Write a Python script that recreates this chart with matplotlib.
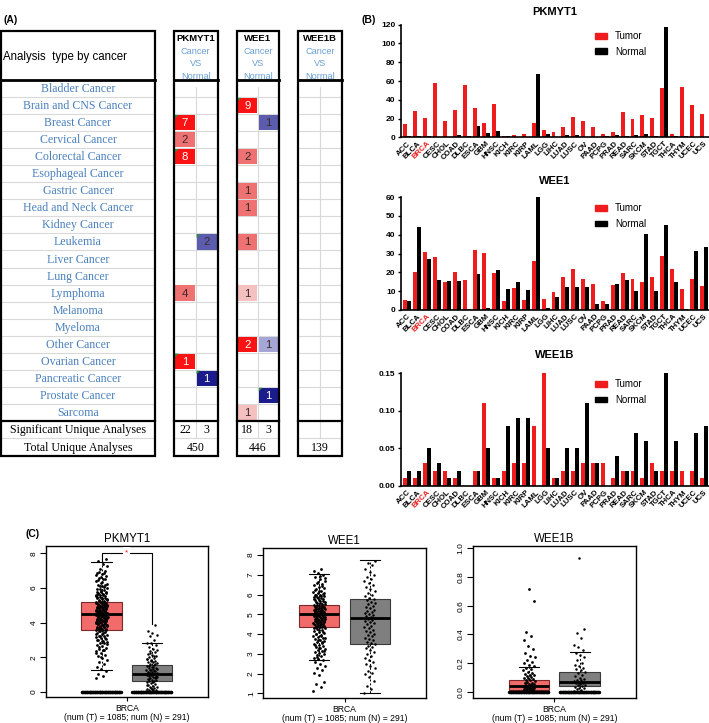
import matplotlib
matplotlib.use('Agg')
import matplotlib.pyplot as plt
from matplotlib.patches import Rectangle, Polygon, Patch
import numpy as np

plt.rcParams['font.family'] = 'sans-serif'
plt.rcParams['font.sans-serif'] = ['Liberation Sans', 'DejaVu Sans']
plt.rcParams['font.serif'] = ['Liberation Serif', 'DejaVu Serif']
plt.rcParams['axes.unicode_minus'] = False

W, H = 709, 723

# ---------------- Panel A: Oncomine summary ----------------
cancers = ['Bladder Cancer', 'Brain and CNS Cancer', 'Breast Cancer', 'Cervical Cancer',
           'Colorectal Cancer', 'Esophageal Cancer', 'Gastric Cancer', 'Head and Neck Cancer',
           'Kidney Cancer', 'Leukemia', 'Liver Cancer', 'Lung Cancer', 'Lymphoma', 'Melanoma',
           'Myeloma', 'Other Cancer', 'Ovarian Cancer', 'Pancreatic Cancer', 'Prostate Cancer',
           'Sarcoma']
genes = ['PKMYT1', 'WEE1', 'WEE1B']

# counts of significant analyses (0 = none), up = over-expressed, down = under-expressed
pk_up = [0, 0, 7, 2, 8, 0, 0, 0, 0, 0, 0, 0, 4, 0, 0, 0, 1, 0, 0, 0]
pk_down = [0, 0, 0, 0, 0, 0, 0, 0, 0, 2, 0, 0, 0, 0, 0, 0, 0, 1, 0, 0]
wee1_up = [0, 9, 0, 0, 2, 0, 1, 1, 0, 1, 0, 0, 1, 0, 0, 2, 0, 0, 0, 1]
wee1_down = [0, 0, 1, 0, 0, 0, 0, 0, 0, 0, 0, 0, 0, 0, 0, 1, 0, 0, 1, 0]
wee1b_up = [0] * 20
wee1b_down = [0] * 20
# colour intensity (gene rank percentile) 1 = light, 2 = medium, 3 = strong
pk_up_shade = [0, 0, 3, 2, 3, 0, 0, 0, 0, 0, 0, 0, 2, 0, 0, 0, 3, 0, 0, 0]
pk_down_shade = [0, 0, 0, 0, 0, 0, 0, 0, 0, 2, 0, 0, 0, 0, 0, 0, 0, 3, 0, 0]
wee1_up_shade = [0, 3, 0, 0, 2, 0, 2, 2, 0, 2, 0, 0, 1, 0, 0, 3, 0, 0, 0, 1]
wee1_down_shade = [0, 0, 2, 0, 0, 0, 0, 0, 0, 0, 0, 0, 0, 0, 0, 1, 0, 0, 3, 0]
# rows flagged as top 1% (green corner)
pk_up_top = [2, 4, 16]
pk_down_top = [9, 17]
wee1_up_top = [1]
wee1_down_top = [18]
sig_up = [22, 18, None]
sig_down = [3, 3, None]
total_analyses = [450, 446, 139]

# ---------------- Panel B: TCGA bars ----------------
tcga = ['ACC', 'BLCA', 'BRCA', 'CESC', 'CHOL', 'COAD', 'DLBC', 'ESCA', 'GBM', 'HNSC', 'KICH',
        'KIRC', 'KIRP', 'LAML', 'LGG', 'LIHC', 'LUAD', 'LUSC', 'OV', 'PAAD', 'PCPG', 'PRAD',
        'READ', 'SARC', 'SKCM', 'STAD', 'TGCT', 'THCA', 'THYM', 'UCEC', 'UCS']
pkmyt1_tumor = [14, 28, 21, 58, 17, 29, 56, 31, 15, 35, 1.5, 2.5, 3.5, 15, 8, 5.5, 11, 22,
                17, 11, 3.5, 5.5, 27, 20, 24, 21, 53, 3, 54, 34, 25]
pkmyt1_normal = [1.5, 1, 1, 0.5, 0.3, 2, 1, 12, 4.5, 7, 1, 0.3, 0.3, 67, 4, 0.5, 2, 2,
                 0.3, 0.5, 1, 2.5, 1.5, 2.5, 4, 1, 118, 1, 1.5, 0.3, 0.3]
wee1_tumor = [5.3, 20.4, 31, 28, 14.9, 20.4, 16.1, 32, 30.3, 19.8, 4.8, 11.9, 5.3, 26.2,
              5.8, 9.8, 17.5, 21.9, 16.5, 13.8, 4.6, 13.1, 19.8, 16.6, 14.7, 17.5, 28.7,
              21.6, 11.3, 16.3, 12.9]
wee1_normal = [4.8, 43.9, 26.9, 16.1, 15.4, 15.4, 0.7, 19.1, 0.9, 21.4, 11.3, 14.7, 10.4,
               60, 0.9, 7.0, 12.2, 12, 12.2, 3, 3, 13.6, 16.1, 10.3, 40.5, 10.3, 45, 15,
               0.7, 31.3, 33.6]
wee1b_tumor = [0.01, 0.01, 0.03, 0.02, 0.02, 0.01, 0, 0.02, 0.11, 0.01, 0.02, 0.03, 0.03,
               0.08, 0.15, 0.01, 0.02, 0.02, 0.03, 0.03, 0.03, 0.01, 0.02, 0.02, 0.01,
               0.03, 0.02, 0.02, 0.02, 0.02, 0.01]
wee1b_normal = [0.02, 0.02, 0.05, 0.03, 0.01, 0.02, 0, 0.02, 0.05, 0.01, 0.08, 0.09, 0.09,
                0, 0.05, 0.01, 0.05, 0.05, 0.11, 0.03, 0, 0.04, 0.02, 0.07, 0.06, 0.02,
                0.15, 0.06, 0, 0.07, 0.08]

# ---------------- Panel C: GEPIA BRCA boxplots ----------------
# box statistics: whisker low, q1, median, q3, whisker high
pk_box = {'T': (1.25, 3.6, 4.5, 5.2, 7.5), 'N': (0.05, 0.6, 1.05, 1.55, 2.85)}
wee1_box = {'T': (2.7, 4.35, 5.0, 5.45, 7.05), 'N': (1.0, 3.5, 4.8, 5.75, 7.75)}
wee1b_box = {'T': (0.0, 0.012, 0.042, 0.086, 0.175), 'N': (0.0, 0.04, 0.07, 0.137, 0.275)}
# individual samples read off the jittered clouds (approximate)
pk_t_pts = [0.8, 0.9, 1.05, 1.2, 1.3, 1.45, 1.6, 1.7, 1.85, 1.95, 2.05, 2.15, 2.25, 2.35,
            2.4, 2.5, 2.55, 2.65, 2.7, 2.8, 2.85, 2.9, 2.95, 3.0, 3.05, 3.1, 3.15, 3.2, 3.25,
            3.3, 3.35, 3.4, 3.45, 3.5, 3.55, 3.6, 3.62, 3.66, 3.7, 3.73, 3.77, 3.8, 3.84,
            3.88, 3.9, 3.94, 3.97, 4.0, 4.03, 4.06, 4.1, 4.13, 4.16, 4.2, 4.23, 4.26, 4.3,
            4.33, 4.36, 4.4, 4.43, 4.46, 4.5, 4.53, 4.56, 4.6, 4.63, 4.66, 4.7, 4.73, 4.76,
            4.8, 4.83, 4.86, 4.9, 4.94, 4.97, 5.0, 5.04, 5.08, 5.12, 5.16, 5.2, 5.25, 5.3,
            5.35, 5.4, 5.45, 5.5, 5.55, 5.6, 5.65, 5.7, 5.75, 5.8, 5.9, 5.95, 6.0, 6.1, 6.15,
            6.2, 6.3, 6.4, 6.5, 6.6, 6.7, 6.8, 6.9, 7.0, 7.1, 7.25, 7.4, 7.55, 7.7,
            2.02, 2.22, 2.42, 2.62, 2.78, 2.92, 3.02, 3.12, 3.22, 3.32, 3.42, 3.52, 3.58,
            3.64, 3.68, 3.72, 3.76, 3.82, 3.86, 3.92, 3.96, 4.02, 4.05, 4.08, 4.12, 4.15,
            4.18, 4.22, 4.25, 4.28, 4.32, 4.35, 4.38, 4.42, 4.45, 4.48, 4.52, 4.55, 4.58,
            4.62, 4.65, 4.68, 4.72, 4.75, 4.78, 4.82, 4.85, 4.88, 4.92, 4.95, 4.98, 5.02,
            5.06, 5.1, 5.14, 5.18, 5.22, 5.28, 5.32, 5.38, 5.42, 5.48, 5.52, 5.58, 5.62,
            5.68, 5.72, 5.78, 5.85, 5.92, 6.05, 6.12, 6.25, 6.35, 6.45, 6.55, 6.65, 6.75,
            6.85, 6.95]
pk_n_pts = [0.05, 0.08, 0.1, 0.12, 0.15, 0.18, 0.2, 0.25, 0.3, 0.35, 0.4, 0.45, 0.5, 0.55,
            0.6, 0.63, 0.67, 0.7, 0.74, 0.78, 0.8, 0.84, 0.88, 0.9, 0.94, 0.98, 1.0, 1.03,
            1.06, 1.1, 1.13, 1.16, 1.2, 1.24, 1.28, 1.32, 1.36, 1.4, 1.45, 1.5, 1.55, 1.6,
            1.65, 1.7, 1.75, 1.8, 1.85, 1.9, 1.95, 2.0, 2.1, 2.15, 2.2, 2.3, 2.35, 2.4, 2.5,
            2.6, 2.7, 2.8, 2.85, 3.0, 3.2, 3.3, 3.4, 3.5, 3.85,
            0.22, 0.42, 0.58, 0.72, 0.86, 0.96, 1.08, 1.18, 1.26, 1.34, 1.42, 1.52, 1.62,
            1.78, 1.92, 2.05, 2.25]
wee1_t_pts = [1.1, 1.3, 1.45, 1.55, 1.9, 2.05, 2.2, 2.3, 2.4, 2.5, 2.6, 2.7, 2.75, 2.8, 2.9,
              2.95, 3.0, 3.05, 3.1, 3.15, 3.2, 3.25, 3.3, 3.35, 3.4, 3.45, 3.5, 3.55, 3.6,
              3.65, 3.7, 3.75, 3.8, 3.85, 3.9, 3.95, 4.0, 4.05, 4.1, 4.15, 4.2, 4.25, 4.3,
              4.35, 4.38, 4.42, 4.45, 4.5, 4.53, 4.56, 4.6, 4.63, 4.66, 4.7, 4.73, 4.76, 4.8,
              4.83, 4.86, 4.9, 4.93, 4.96, 5.0, 5.03, 5.06, 5.1, 5.13, 5.16, 5.2, 5.23, 5.26,
              5.3, 5.33, 5.36, 5.4, 5.45, 5.5, 5.55, 5.6, 5.65, 5.7, 5.75, 5.8, 5.85, 5.9,
              5.95, 6.0, 6.05, 6.1, 6.15, 6.2, 6.3, 6.35, 6.4, 6.5, 6.55, 6.6, 6.7, 6.8, 6.9,
              7.0, 7.1, 7.2, 7.3,
              2.85, 3.12, 3.28, 3.42, 3.58, 3.68, 3.78, 3.88, 3.98, 4.08, 4.18, 4.28, 4.33,
              4.37, 4.4, 4.44, 4.48, 4.52, 4.55, 4.58, 4.62, 4.65, 4.68, 4.72, 4.75, 4.78,
              4.82, 4.85, 4.88, 4.92, 4.95, 4.98, 5.02, 5.05, 5.08, 5.12, 5.15, 5.18, 5.22,
              5.25, 5.28, 5.32, 5.35, 5.38, 5.42, 5.48, 5.52, 5.58, 5.62, 5.68, 5.72, 5.78,
              5.82, 5.88, 5.92, 5.98, 6.08, 6.18, 6.25, 6.45, 6.65, 6.85, 6.95]
wee1_n_pts = [1.0, 1.2, 1.35, 1.6, 1.8, 1.95, 2.05, 2.15, 2.3, 2.4, 2.5, 2.6, 2.7, 2.8, 2.9,
              3.0, 3.1, 3.2, 3.3, 3.35, 3.4, 3.5, 3.55, 3.6, 3.7, 3.75, 3.8, 3.9, 3.95, 4.0,
              4.1, 4.15, 4.2, 4.3, 4.35, 4.4, 4.5, 4.55, 4.6, 4.65, 4.7, 4.75, 4.8, 4.85, 4.9,
              4.95, 5.0, 5.05, 5.1, 5.15, 5.2, 5.3, 5.35, 5.4, 5.5, 5.55, 5.6, 5.7, 5.75, 5.8,
              5.9, 6.0, 6.1, 6.2, 6.3, 6.4, 6.5, 6.6, 6.7, 6.8, 6.9, 7.0, 7.15, 7.3, 7.5, 7.6,
              7.7]
wee1b_t_pts = [0.005, 0.01, 0.012, 0.015, 0.018, 0.02, 0.022, 0.025, 0.028, 0.03, 0.033,
               0.036, 0.04, 0.043, 0.046, 0.05, 0.053, 0.056, 0.06, 0.065, 0.07, 0.075, 0.08,
               0.085, 0.09, 0.095, 0.1, 0.105, 0.11, 0.115, 0.12, 0.125, 0.13, 0.14, 0.15,
               0.16, 0.17, 0.18, 0.19, 0.2, 0.21, 0.22, 0.24, 0.25, 0.27, 0.3, 0.32, 0.36,
               0.39, 0.42, 0.63, 0.72]
wee1b_n_pts = [0.01, 0.015, 0.02, 0.025, 0.03, 0.035, 0.04, 0.045, 0.05, 0.055, 0.06, 0.065,
               0.07, 0.075, 0.08, 0.085, 0.09, 0.1, 0.11, 0.12, 0.13, 0.14, 0.15, 0.16, 0.17,
               0.18, 0.19, 0.2, 0.22, 0.24, 0.26, 0.27, 0.29, 0.31, 0.33, 0.375, 0.41, 0.44,
               0.93]
# samples sitting exactly at zero (drawn as a solid row in the original)
zero_counts = {'PKMYT1': (60, 60), 'WEE1': (0, 0), 'WEE1B': (60, 60)}

fig = plt.figure(figsize=(W / 100, H / 100), dpi=100)
fig.patch.set_facecolor('white')


def px_axes(left, top, right, bottom):
    return fig.add_axes([left / W, 1 - bottom / H, (right - left) / W, (bottom - top) / H])


# ======== Panel A ========
axA = px_axes(0, 28, 345, 460)
axA.set_xlim(0, 345)
axA.set_ylim(460, 28)
axA.axis('off')

TOP, HEAD_BOT, ROW_H = 31, 80, 17.05
ROWS_BOT = HEAD_BOT + ROW_H * len(cancers)
SIG_BOT = ROWS_BOT + 17.5
TOT_BOT = SIG_BOT + 17.8
BLUE = '#4a80bd'
LGRAY = '#d9d9d9'
up_cols = {1: '#f5c0c0', 2: '#ee7272', 3: '#fb1313'}
down_cols = {1: '#a5a5d6', 2: '#5c5cae', 3: '#1b1b8c'}

# left label block
axA.add_patch(Rectangle((0.5, TOP), 154.5, TOT_BOT - TOP, fill=False, lw=1.6, ec='black', zorder=5))
axA.plot([0.5, 155], [HEAD_BOT, HEAD_BOT], color='black', lw=2, zorder=5)
axA.plot([0.5, 155], [ROWS_BOT, ROWS_BOT], color='black', lw=1.6, zorder=5)
axA.text(3, 57, 'Analysis  type by cancer', fontsize=8.3, va='center', ha='left')
for i, name in enumerate(cancers):
    yc = HEAD_BOT + (i + 0.5) * ROW_H
    axA.text(78, yc + 0.5, name, family='serif', fontsize=8.6, color=BLUE, ha='center', va='center')
    if i > 0:
        axA.plot([0.5, 155], [HEAD_BOT + i * ROW_H] * 2, color=LGRAY, lw=0.8)
axA.plot([0.5, 155], [SIG_BOT, SIG_BOT], color=LGRAY, lw=0.8)
axA.text(78, (ROWS_BOT + SIG_BOT) / 2 + 0.5, 'Significant Unique Analyses', family='serif',
         fontsize=8.6, ha='center', va='center')
axA.text(78, (SIG_BOT + TOT_BOT) / 2 + 0.5, 'Total Unique Analyses', family='serif',
         fontsize=8.6, ha='center', va='center')

blocks = [(174, 217.5), (236.7, 279.3), (298.3, 341.7)]
ups = [pk_up, wee1_up, wee1b_up]
downs = [pk_down, wee1_down, wee1b_down]
up_sh = [pk_up_shade, wee1_up_shade, [0] * 20]
down_sh = [pk_down_shade, wee1_down_shade, [0] * 20]
up_tp = [pk_up_top, wee1_up_top, []]
down_tp = [pk_down_top, wee1_down_top, []]

for g, (x0, x1) in enumerate(blocks):
    xm = (x0 + x1) / 2
    axA.add_patch(Rectangle((x0, TOP), x1 - x0, TOT_BOT - TOP, fill=False, lw=1.6, ec='black', zorder=5))
    axA.plot([x0, x1], [HEAD_BOT, HEAD_BOT], color='black', lw=2, zorder=5)
    axA.plot([x0, x1], [ROWS_BOT, ROWS_BOT], color='black', lw=1.6, zorder=5)
    axA.text(xm, 38.5, genes[g], fontsize=6.8, fontweight='bold', ha='center', va='center')
    for k, word in enumerate(['Cancer', 'VS', 'Normal']):
        axA.text(xm, 51 + k * 12.7, word, fontsize=6.6, color='#6a9fd4', ha='center', va='center')
    axA.add_patch(Rectangle((x0 + 1, HEAD_BOT + 1), x1 - x0 - 2, 5, color='white', zorder=4))
    # grid
    for i in range(1, len(cancers)):
        axA.plot([x0, x1], [HEAD_BOT + i * ROW_H] * 2, color=LGRAY, lw=0.8, zorder=1)
    axA.plot([xm, xm], [HEAD_BOT, SIG_BOT], color=LGRAY, lw=0.8, zorder=1)
    axA.plot([x0, x1], [SIG_BOT, SIG_BOT], color=LGRAY, lw=0.8, zorder=1)
    # cells
    for side, (vals, shades, tops, cols) in enumerate([(ups[g], up_sh[g], up_tp[g], up_cols),
                                                       (downs[g], down_sh[g], down_tp[g], down_cols)]):
        cx0 = x0 if side == 0 else xm
        cx1 = xm if side == 0 else x1
        for i, v in enumerate(vals):
            if v == 0:
                continue
            y0 = HEAD_BOT + i * ROW_H
            axA.add_patch(Rectangle((cx0 + 0.8, y0 + 0.8), cx1 - cx0 - 1.6, ROW_H - 1.6,
                                    color=cols[shades[i]], lw=0, zorder=2))
            tc = 'white' if shades[i] == 3 else '#3a2a2a'
            axA.text((cx0 + cx1) / 2, y0 + ROW_H / 2 + 0.5, str(v), fontsize=8.2, color=tc,
                     ha='center', va='center', zorder=3)
            if i in tops:
                axA.add_patch(Polygon([(cx0 + 0.8, y0 + 0.8), (cx0 + 4.5, y0 + 0.8),
                                       (cx0 + 0.8, y0 + 4.5)], color='#2f8f3a', lw=0, zorder=3))
    if sig_up[g] is not None:
        axA.text((x0 + xm) / 2, (ROWS_BOT + SIG_BOT) / 2 + 0.5, str(sig_up[g]), family='serif',
                 fontsize=8.6, ha='center', va='center')
        axA.text((xm + x1) / 2, (ROWS_BOT + SIG_BOT) / 2 + 0.5, str(sig_down[g]), family='serif',
                 fontsize=8.6, ha='center', va='center')
    axA.text(xm, (SIG_BOT + TOT_BOT) / 2 + 0.5, str(total_analyses[g]), family='serif',
             fontsize=8.6, ha='center', va='center')

# ======== Panel B ========
xcat = np.arange(len(tcga))


def bar_panel(ax, tumor, normal, ymax, yticks, fmt, title, pad):
    ax.bar(xcat - 0.2, tumor, 0.4, color='#ee1c1c', label='Tumor')
    ax.bar(xcat + 0.2, normal, 0.4, color='black', label='Normal')
    ax.set_xlim(-0.65, 30.55)
    ax.set_ylim(0, ymax)
    ax.set_yticks(yticks)
    ax.set_yticklabels([fmt.format(t) for t in yticks], fontsize=6, fontweight='bold')
    ax.set_xticks(xcat)
    ax.set_xticklabels(tcga, rotation=45, ha='right', rotation_mode='anchor',
                       fontsize=5.6, fontweight='bold')
    ax.get_xticklabels()[2].set_color('#ee1c1c')
    ax.tick_params(axis='x', length=0, pad=2)
    ax.tick_params(axis='y', length=2.5, width=1, pad=1.5)
    for s in ['top', 'right']:
        ax.spines[s].set_visible(False)
    for s in ['left', 'bottom']:
        ax.spines[s].set_linewidth(1.2)
    ax.set_title(title, fontsize=8, fontweight='bold', pad=pad)
    ax.legend(handles=[Patch(color='#ee1c1c', label='Tumor'), Patch(color='black', label='Normal')],
              loc='upper left', bbox_to_anchor=(0.6, 1.02), frameon=False, fontsize=7,
              handlelength=1.3, handleheight=0.5, labelspacing=0.55, handletextpad=0.8)


axB1 = px_axes(401, 24.7, 709, 137.3)
bar_panel(axB1, pkmyt1_tumor, pkmyt1_normal, 120, [0, 20, 40, 60, 80, 100, 120], '{:g}', 'PKMYT1', 7)
axB2 = px_axes(401, 197, 709, 310)
bar_panel(axB2, wee1_tumor, wee1_normal, 60, [0, 10, 20, 30, 40, 50, 60], '{:g}', 'WEE1', 9)
axB3 = px_axes(401, 373, 709, 486)
bar_panel(axB3, wee1b_tumor, wee1b_normal, 0.15, [0, 0.05, 0.10, 0.15], '{:.2f}', 'WEE1B', 11)

# ======== Panel C ========


def jitter(n, width):
    return ((np.arange(n) * 0.618034) % 1 - 0.5) * width


def box_panel(ax, box, t_pts, n_pts, zeros, ylim, yticks, ylabels, title):
    stats = []
    for key in ['T', 'N']:
        lo, q1, med, q3, hi = box[key]
        stats.append({'whislo': lo, 'q1': q1, 'med': med, 'q3': q3, 'whishi': hi, 'fliers': []})
    bp = ax.bxp(stats, positions=[1, 2], widths=0.8, patch_artist=True, showfliers=False,
                capwidths=0.4,
                medianprops=dict(color='black', lw=2),
                whiskerprops=dict(color='black', lw=0.7, ls=(0, (2, 2))),
                capprops=dict(color='black', lw=0.8))
    bp['boxes'][0].set(facecolor='#f26b6b', edgecolor='#7a2a2a', lw=0.8)
    bp['boxes'][1].set(facecolor='#7f7f7f', edgecolor='#3a3a3a', lw=0.8)
    for pos, pts, jw, sz, nz in [(1, t_pts, 0.24, 4.0, zeros[0]), (2, n_pts, 0.22, 3.2, zeros[1])]:
        ax.scatter(pos + jitter(len(pts), jw), pts, s=sz, color='black', lw=0, zorder=4)
        if nz:
            ax.scatter(pos + jitter(nz, 0.78), np.zeros(nz), s=6, color='black', lw=0, zorder=4)
    ax.set_xlim(-0.11, 3.11)
    ax.set_ylim(*ylim)
    ax.set_yticks(yticks)
    ax.set_yticklabels(ylabels, rotation=90, va='center', fontsize=6)
    ax.set_xticks([1.5])
    ax.set_xticklabels(['BRCA\n(num (T) = 1085; num (N) = 291)'], fontsize=6.2, linespacing=1.0)
    ax.tick_params(axis='y', length=4, width=0.8, pad=2)
    ax.tick_params(axis='x', length=3, width=0.8, pad=2)
    for s in ax.spines.values():
        s.set_linewidth(1.0)
    ax.set_title(title, fontsize=8.3, pad=3)


axC1 = px_axes(45.7, 545.7, 207.7, 697)
box_panel(axC1, pk_box, pk_t_pts, pk_n_pts, zero_counts['PKMYT1'], (-0.3, 8.45),
          [0, 2, 4, 6, 8], ['0', '2', '4', '6', '8'], 'PKMYT1')
# significance bracket
axC1.plot([1, 1, 2, 2], [7.55, 8.05, 8.05, 3.95], color='black', lw=0.8, zorder=5)
axC1.text(1.5, 8.05, '*', color='#ee1c1c', fontsize=6, ha='center', va='center', zorder=6,
          bbox=dict(facecolor='white', edgecolor='none', pad=1.5))

axC2 = px_axes(263.3, 547.7, 425.7, 698)
box_panel(axC2, wee1_box, wee1_t_pts, wee1_n_pts, zero_counts['WEE1'], (0.76, 8.37),
          [1, 2, 3, 4, 5, 6, 7, 8], [str(v) for v in range(1, 9)], 'WEE1')

axC3 = px_axes(473, 546, 635.7, 697.7)
box_panel(axC3, wee1b_box, wee1b_t_pts, wee1b_n_pts, zero_counts['WEE1B'], (-0.04, 1.016),
          [0, 0.2, 0.4, 0.6, 0.8, 1.0], ['0.0', '0.2', '0.4', '0.6', '0.8', '1.0'], 'WEE1B')

# panel letters
fig.text(4 / W, 1 - 20 / H, '(A)', fontsize=7.5, fontweight='bold', va='center')
fig.text(362 / W, 1 - 20 / H, '(B)', fontsize=7.5, fontweight='bold', va='center')
fig.text(25 / W, 1 - 534 / H, '(C)', fontsize=7.5, fontweight='bold', va='center')

fig.savefig('out.png', dpi=100, facecolor='white')
